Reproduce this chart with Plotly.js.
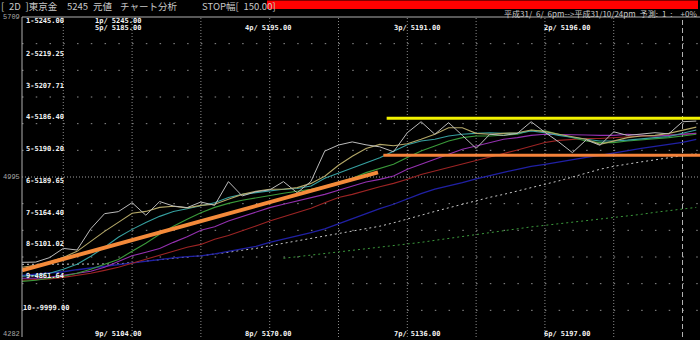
<!DOCTYPE html>
<html><head><meta charset="utf-8">
<script src="https://cdn.plot.ly/plotly-3.0.1.min.js"></script>
<style>html,body{margin:0;padding:0;background:#000;}#chart{width:700px;height:340px;}</style>
</head><body><div id="chart"></div>
<script>
// ---- data ----
const priceClose = [4615,4616,4636,4677,4670,4765,4832,4841,4881,4825, 4886,4866,4859,4884,4869,4975,4911,4930,4938,4975, 4925,4976,5111,5138,5152,5139,5130,5108,5193,5242, 5186,5238,5181,5123,5186,5181,5190,5242,5195,5152, 5104,5161,5137,5197,5181,5186,5193,5188,5242,5245];
const maKhaki = [4593,4602,4615,4637,4664,4709,4753,4793,4834,4842, 4860,4865,4858,4869,4874,4896,4918,4932,4941,4941, 4948,4967,4999,5048,5088,5123,5141,5135,5144,5164, 5186,5215,5215,5190,5186,5190,5193,5205,5198,5186, 5176,5164,5141,5156,5171,5178,5181,5190,5205,5218];
const maTeal = [4553,4557,4566,4584,4606,4642,4682,4727,4762,4793, 4820,4842,4854,4869,4881,4904,4918,4926,4933,4941, 4944,4955,4990,5012,5034,5057,5081,5110,5139,5156, 5164,5178,5186,5190,5193,5190,5190,5201,5193,5181, 5171,5164,5156,5156,5160,5164,5171,5176,5190,5205];
const maGreen = [4530,4535,4544,4553,4566,4584,4606,4628,4664,4700, 4740,4776,4807,4836,4860,4878,4892,4903,4912,4923, 4932,4941,4954,4972,4990,5015,5033,5052,5082,5111, 5134,5156,5171,5178,5178,5181,5186,5204,5201,5186, 5171,5156,5149,5149,5156,5160,5167,5171,5178,5186];
const maPurple = [4544,4544,4548,4557,4564,4575,4593,4619,4644,4660, 4677,4704,4729,4758,4774,4799,4819,4837,4859,4874, 4888,4904,4918,4936,4955,4973,4985,5000,5030,5052, 5074,5097,5119,5134,5149,5164,5171,5181,5186,5186, 5183,5183,5181,5181,5186,5181,5178,5181,5186,5190];
const maRed = [4535,4537,4541,4548,4557,4566,4579,4593,4611,4628, 4646,4664,4682,4695,4718,4735,4755,4777,4799,4819, 4837,4856,4881,4904,4918,4936,4952,4967,4985,5007, 5022,5037,5052,5067,5082,5100,5116,5134,5149,5159, 5164,5167,5167,5171,5176,5178,5178,5181,5186,5190];
const maBlue = [4557,4562,4566,4573,4582,4590,4597,4606,4614,4622, 4628,4635,4640,4644,4653,4664,4675,4686,4704,4718, 4731,4747,4764,4787,4809,4834,4854,4874,4898,4921, 4941,4955,4970,4987,5003,5016,5030,5043,5052,5063, 5074,5083,5092,5103,5115,5123,5132,5141,5150,5163];
const maWhiteDot = [4606,4606,4606,4606,4606,4606,4606,4608,4614,4621, 4627,4634,4639,4644,4651,4660,4669,4677,4689,4700, 4711,4722,4733,4744,4756,4767,4776,4791,4809,4827, 4842,4858,4874,4889,4905,4918,4934,4947,4963,4978, 4996,5014,5030,5043,5054,5063,5072,5081,5089,5100];
const maGreenDot = [null,null,null,null,null,null,null,null,null,null, null,null,null,null,null,null,null,null,null,4633, 4640,4646,4653,4660,4666,4673,4680,4688,4695,4704, 4713,4722,4731,4740,4749,4758,4767,4773,4780,4787, 4793,4800,4807,4813,4820,4829,4838,4845,4851,4860];
const trendX = [0, 25.87];
const trendY = [4579, 5016];
const resistX = [26.5, 49.3];
const resistY = [5257, 5257];
const supportX = [26.26, 49.3];
const supportY = [5092, 5092];

const indicatorLabels = ["1-5245.00","2-5219.25","3-5207.71","4-5186.40","5-5190.20","6-5189.65","7-5164.40","8-5101.02","9-4861.64","10--9999.00"];
const peakLabels = ["1p/ 5245.00","5p/ 5185.00","4p/ 5195.00","3p/ 5191.00","2p/ 5196.00"];
const troughLabels = ["9p/ 5104.00","8p/ 5170.00","7p/ 5136.00","6p/ 5197.00"];
const axisLabels = ["5709","4995","4282"];
const headerTexts = ["[ 2D ]東京金","5245","元値","チャート分析","STOP幅[ 150.00]"];
const periodText = "平成31/ 6/ 6pm-->平成31/10/24pm 予測: 1 :  +0%";
const yMin = 4282, yMax = 5709;

// ---- layout helpers ----
const L = 22, T = 17, W = 678, H = 320;
const ax = x => (x - L) / W;
const ay = y => (T + H - y) / H;
const idx = priceClose.map((_, i) => i);
const wideSpaces = s => s.replace(/ /g, '\u2002');

const monoFont = {family: 'DejaVu Sans Mono, Liberation Mono, monospace', size: 7, color: '#f4f4f4', weight: 'bold'};
const jpFont = {family: 'Noto Sans CJK JP, sans-serif', size: 9.5, color: '#c8c8c8'};

function line(y, color, width, dash) {
  return {x: idx, y: y, type: 'scatter', mode: 'lines', hoverinfo: 'skip',
          line: {color: color, width: width, dash: dash || 'solid'}, connectgaps: false};
}
const traces = [
  line(maGreenDot, '#3c9a3c', 1, '2px,3px'),
  line(maWhiteDot, '#c8c8c8', 1, '2px,3px'),
  line(maBlue, '#2020a4', 1.3),
  line(maRed, '#9c2424', 1.1),
  line(maPurple, '#9430b0', 1.1),
  line(maGreen, '#3a9a3a', 1.1),
  line(maTeal, '#36a0a0', 1.1),
  line(maKhaki, '#b4a868', 1.1),
  line(priceClose, '#bcbcbc', 1),
  {x: trendX, y: trendY, type: 'scatter', mode: 'lines', line: {color: '#f48a3a', width: 4}},
  {x: supportX, y: supportY, type: 'scatter', mode: 'lines', line: {color: '#f4823a', width: 3}},
  {x: resistX, y: resistY, type: 'scatter', mode: 'lines', line: {color: '#f2f200', width: 3}}
];

const shapes = [];
// horizontal grid
for (let k = 1; k <= 11; k++) {
  const v = yMin + k * (yMax - yMin) / 12;
  const mid = k === 6;
  shapes.push({type: 'line', layer: 'below', xref: 'paper', x0: 0, x1: 1, yref: 'y', y0: v, y1: v,
    line: {color: mid ? '#a0a0a0' : '#909090', width: 1, dash: mid ? '1px,2px' : '1.5px,12.26px'}});
}
// vertical grid
for (let i = 3; i <= 43; i += 5) {
  shapes.push({type: 'line', layer: 'below', xref: 'x', x0: i, x1: i, yref: 'paper', y0: 0, y1: 1,
    line: {color: '#8a8a8a', width: 1, dash: '1px,2px'}});
}
shapes.push({type: 'line', layer: 'below', xref: 'x', x0: 48, x1: 48, yref: 'paper', y0: 0, y1: 1,
  line: {color: '#b4b4b4', width: 1, dash: '5px,3px'}});
// frame
shapes.push({type: 'line', xref: 'paper', x0: 0, x1: 0, yref: 'paper', y0: 0, y1: 1, line: {color: '#b0b0b0', width: 1}});
shapes.push({type: 'line', xref: 'paper', x0: 0, x1: 1.01, yref: 'paper', y0: 1, y1: 1, line: {color: '#b0b0b0', width: 1}});
// red status bar
shapes.push({type: 'rect', xref: 'paper', yref: 'paper', x0: ax(267), x1: ax(698), y0: ay(9), y1: ay(0.5),
  fillcolor: '#ff0000', line: {width: 0}});

const ann = [];
function txt(text, x, y, font, anchor) {
  ann.push({text: text, xref: 'paper', yref: 'paper', x: ax(x), y: ay(y), xanchor: anchor || 'left', yanchor: 'middle',
    showarrow: false, font: font, borderpad: 0});
}
const indY = [21, 54, 85.7, 117.4, 149.1, 180.8, 212.5, 244.2, 275.9, 307.6];
indicatorLabels.forEach((t, k) => txt(t, k === 9 ? 22 : 25, indY[k], monoFont));
const peakPos = [[94, 20.7], [94, 27.5], [244, 27.5], [393, 27.5], [543, 27.5]];
peakLabels.forEach((t, k) => txt(t, peakPos[k][0], peakPos[k][1], monoFont));
const troughPos = [94, 244, 393, 543];
troughLabels.forEach((t, k) => txt(t, troughPos[k], 334, monoFont));
const axFont = {family: 'Liberation Mono, monospace', size: 7, color: '#a8a8a8'};
txt(axisLabels[0], 21, 16.5, axFont, 'right');
txt(axisLabels[1], 21, 177, axFont, 'right');
txt(axisLabels[2], 21, 333.5, axFont, 'right');
const headX = [0, 66, 92, 119, 201];
headerTexts.forEach((t, k) => txt(wideSpaces(t), headX[k], 6, jpFont));
txt(wideSpaces(periodText), 698, 13.3, {family: 'Noto Sans CJK JP, sans-serif', size: 8, color: '#c8c8c8'}, 'right');

const layout = {
  width: 700, height: 340,
  margin: {l: L, r: 700 - L - W, t: T, b: 340 - T - H, pad: 0},
  paper_bgcolor: '#000', plot_bgcolor: '#000',
  showlegend: false,
  xaxis: {range: [0, 49.27], showgrid: false, zeroline: false, showticklabels: false, ticks: '', showline: false, fixedrange: true},
  yaxis: {range: [yMin, yMax], showgrid: false, zeroline: false, showticklabels: false, ticks: '', showline: false, fixedrange: true},
  shapes: shapes,
  annotations: ann
};
Plotly.newPlot('chart', traces, layout, {displayModeBar: false, staticPlot: true});
</script>
</body></html>
